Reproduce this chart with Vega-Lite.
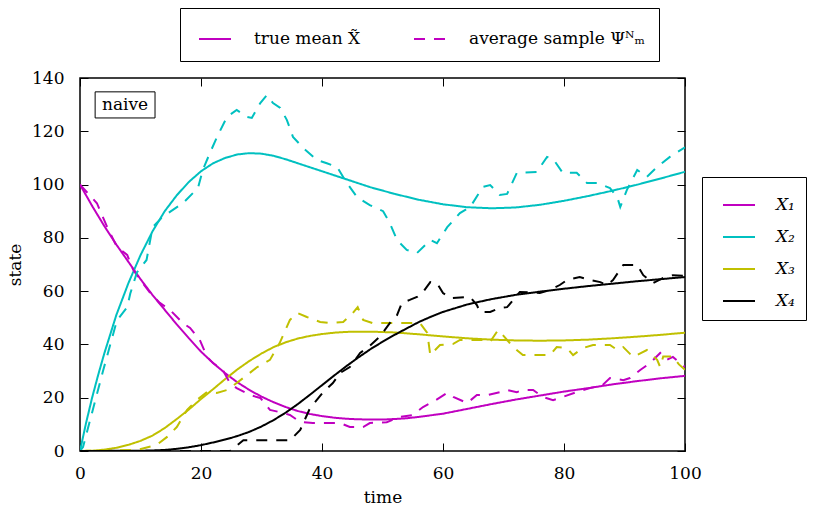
{
  "$schema": "https://vega.github.io/schema/vega-lite/v6.json",
  "width": 605,
  "height": 373,
  "autosize": {"type": "none"},
  "padding": {"left": 80, "top": 78, "right": 128, "bottom": 57},
  "config": {
    "font": "DejaVu Serif, serif",
    "view": {"stroke": "black", "strokeWidth": 1.5},
    "axis": {
      "grid": false,
      "domain": false,
      "tickSize": -8,
      "tickColor": "black",
      "tickWidth": 1,
      "labelFlush": false,
      "labelFont": "DejaVu Serif, serif",
      "titleFont": "DejaVu Serif, serif",
      "labelFontSize": 17,
      "titleFontSize": 17,
      "labelColor": "black",
      "titleColor": "black",
      "titleFontWeight": "normal"
    },
    "legend": {
      "labelFont": "DejaVu Serif, serif",
      "labelFontSize": 17,
      "labelColor": "black",
      "labelLimit": 400,
      "strokeColor": "black",
      "fillColor": "white",
      "symbolType": "stroke",
      "symbolSize": 1024,
      "symbolStrokeWidth": 2
    }
  },
  "datasets": {
    "curves": [
      {"t": 0, "v": 100, "series": "X₁", "kind": "true mean X̃"},
      {"t": 2, "v": 92, "series": "X₁", "kind": "true mean X̃"},
      {"t": 4, "v": 84.5, "series": "X₁", "kind": "true mean X̃"},
      {"t": 6, "v": 77.5, "series": "X₁", "kind": "true mean X̃"},
      {"t": 8, "v": 71, "series": "X₁", "kind": "true mean X̃"},
      {"t": 10, "v": 64.5, "series": "X₁", "kind": "true mean X̃"},
      {"t": 12, "v": 58.5, "series": "X₁", "kind": "true mean X̃"},
      {"t": 14, "v": 53, "series": "X₁", "kind": "true mean X̃"},
      {"t": 16, "v": 47.5, "series": "X₁", "kind": "true mean X̃"},
      {"t": 18, "v": 42.3, "series": "X₁", "kind": "true mean X̃"},
      {"t": 20, "v": 37.3, "series": "X₁", "kind": "true mean X̃"},
      {"t": 22, "v": 33, "series": "X₁", "kind": "true mean X̃"},
      {"t": 24, "v": 29.2, "series": "X₁", "kind": "true mean X̃"},
      {"t": 26, "v": 25.8, "series": "X₁", "kind": "true mean X̃"},
      {"t": 28, "v": 22.9, "series": "X₁", "kind": "true mean X̃"},
      {"t": 30, "v": 20.4, "series": "X₁", "kind": "true mean X̃"},
      {"t": 32, "v": 18.3, "series": "X₁", "kind": "true mean X̃"},
      {"t": 34, "v": 16.5, "series": "X₁", "kind": "true mean X̃"},
      {"t": 36, "v": 15, "series": "X₁", "kind": "true mean X̃"},
      {"t": 38, "v": 13.9, "series": "X₁", "kind": "true mean X̃"},
      {"t": 40, "v": 13.1, "series": "X₁", "kind": "true mean X̃"},
      {"t": 42, "v": 12.5, "series": "X₁", "kind": "true mean X̃"},
      {"t": 44, "v": 12.1, "series": "X₁", "kind": "true mean X̃"},
      {"t": 46, "v": 11.9, "series": "X₁", "kind": "true mean X̃"},
      {"t": 48, "v": 11.8, "series": "X₁", "kind": "true mean X̃"},
      {"t": 50, "v": 11.8, "series": "X₁", "kind": "true mean X̃"},
      {"t": 52, "v": 12, "series": "X₁", "kind": "true mean X̃"},
      {"t": 54, "v": 12.3, "series": "X₁", "kind": "true mean X̃"},
      {"t": 56, "v": 12.8, "series": "X₁", "kind": "true mean X̃"},
      {"t": 58, "v": 13.4, "series": "X₁", "kind": "true mean X̃"},
      {"t": 60, "v": 14, "series": "X₁", "kind": "true mean X̃"},
      {"t": 64, "v": 15.8, "series": "X₁", "kind": "true mean X̃"},
      {"t": 68, "v": 17.6, "series": "X₁", "kind": "true mean X̃"},
      {"t": 72, "v": 19.3, "series": "X₁", "kind": "true mean X̃"},
      {"t": 76, "v": 20.8, "series": "X₁", "kind": "true mean X̃"},
      {"t": 80, "v": 22.3, "series": "X₁", "kind": "true mean X̃"},
      {"t": 84, "v": 23.6, "series": "X₁", "kind": "true mean X̃"},
      {"t": 88, "v": 25, "series": "X₁", "kind": "true mean X̃"},
      {"t": 92, "v": 26.2, "series": "X₁", "kind": "true mean X̃"},
      {"t": 96, "v": 27.3, "series": "X₁", "kind": "true mean X̃"},
      {"t": 100, "v": 28.2, "series": "X₁", "kind": "true mean X̃"},

      {"t": 0, "v": 0, "series": "X₂", "kind": "true mean X̃"},
      {"t": 1, "v": 10.5, "series": "X₂", "kind": "true mean X̃"},
      {"t": 2, "v": 20, "series": "X₂", "kind": "true mean X̃"},
      {"t": 3, "v": 28.5, "series": "X₂", "kind": "true mean X̃"},
      {"t": 4, "v": 36.5, "series": "X₂", "kind": "true mean X̃"},
      {"t": 6, "v": 51, "series": "X₂", "kind": "true mean X̃"},
      {"t": 8, "v": 63, "series": "X₂", "kind": "true mean X̃"},
      {"t": 10, "v": 73.5, "series": "X₂", "kind": "true mean X̃"},
      {"t": 12, "v": 82.5, "series": "X₂", "kind": "true mean X̃"},
      {"t": 14, "v": 90, "series": "X₂", "kind": "true mean X̃"},
      {"t": 16, "v": 96, "series": "X₂", "kind": "true mean X̃"},
      {"t": 18, "v": 101, "series": "X₂", "kind": "true mean X̃"},
      {"t": 20, "v": 105, "series": "X₂", "kind": "true mean X̃"},
      {"t": 22, "v": 108, "series": "X₂", "kind": "true mean X̃"},
      {"t": 24, "v": 110, "series": "X₂", "kind": "true mean X̃"},
      {"t": 26, "v": 111.3, "series": "X₂", "kind": "true mean X̃"},
      {"t": 28, "v": 111.8, "series": "X₂", "kind": "true mean X̃"},
      {"t": 30, "v": 111.6, "series": "X₂", "kind": "true mean X̃"},
      {"t": 32, "v": 110.8, "series": "X₂", "kind": "true mean X̃"},
      {"t": 34, "v": 109.5, "series": "X₂", "kind": "true mean X̃"},
      {"t": 36, "v": 108, "series": "X₂", "kind": "true mean X̃"},
      {"t": 38, "v": 106.5, "series": "X₂", "kind": "true mean X̃"},
      {"t": 40, "v": 105, "series": "X₂", "kind": "true mean X̃"},
      {"t": 44, "v": 102, "series": "X₂", "kind": "true mean X̃"},
      {"t": 48, "v": 99, "series": "X₂", "kind": "true mean X̃"},
      {"t": 52, "v": 96.5, "series": "X₂", "kind": "true mean X̃"},
      {"t": 56, "v": 94.3, "series": "X₂", "kind": "true mean X̃"},
      {"t": 60, "v": 92.6, "series": "X₂", "kind": "true mean X̃"},
      {"t": 64, "v": 91.5, "series": "X₂", "kind": "true mean X̃"},
      {"t": 68, "v": 91.1, "series": "X₂", "kind": "true mean X̃"},
      {"t": 72, "v": 91.4, "series": "X₂", "kind": "true mean X̃"},
      {"t": 76, "v": 92.4, "series": "X₂", "kind": "true mean X̃"},
      {"t": 80, "v": 93.9, "series": "X₂", "kind": "true mean X̃"},
      {"t": 84, "v": 95.7, "series": "X₂", "kind": "true mean X̃"},
      {"t": 88, "v": 97.7, "series": "X₂", "kind": "true mean X̃"},
      {"t": 92, "v": 99.9, "series": "X₂", "kind": "true mean X̃"},
      {"t": 96, "v": 102.3, "series": "X₂", "kind": "true mean X̃"},
      {"t": 100, "v": 104.8, "series": "X₂", "kind": "true mean X̃"},

      {"t": 0, "v": 0, "series": "X₃", "kind": "true mean X̃"},
      {"t": 2, "v": 0.1, "series": "X₃", "kind": "true mean X̃"},
      {"t": 4, "v": 0.5, "series": "X₃", "kind": "true mean X̃"},
      {"t": 6, "v": 1.2, "series": "X₃", "kind": "true mean X̃"},
      {"t": 8, "v": 2.3, "series": "X₃", "kind": "true mean X̃"},
      {"t": 10, "v": 3.8, "series": "X₃", "kind": "true mean X̃"},
      {"t": 12, "v": 5.8, "series": "X₃", "kind": "true mean X̃"},
      {"t": 14, "v": 8.6, "series": "X₃", "kind": "true mean X̃"},
      {"t": 16, "v": 12, "series": "X₃", "kind": "true mean X̃"},
      {"t": 18, "v": 15.6, "series": "X₃", "kind": "true mean X̃"},
      {"t": 20, "v": 19.5, "series": "X₃", "kind": "true mean X̃"},
      {"t": 22, "v": 23.2, "series": "X₃", "kind": "true mean X̃"},
      {"t": 24, "v": 27, "series": "X₃", "kind": "true mean X̃"},
      {"t": 26, "v": 30.6, "series": "X₃", "kind": "true mean X̃"},
      {"t": 28, "v": 33.8, "series": "X₃", "kind": "true mean X̃"},
      {"t": 30, "v": 36.6, "series": "X₃", "kind": "true mean X̃"},
      {"t": 32, "v": 39, "series": "X₃", "kind": "true mean X̃"},
      {"t": 34, "v": 40.8, "series": "X₃", "kind": "true mean X̃"},
      {"t": 36, "v": 42.2, "series": "X₃", "kind": "true mean X̃"},
      {"t": 38, "v": 43.2, "series": "X₃", "kind": "true mean X̃"},
      {"t": 40, "v": 43.9, "series": "X₃", "kind": "true mean X̃"},
      {"t": 42, "v": 44.4, "series": "X₃", "kind": "true mean X̃"},
      {"t": 44, "v": 44.7, "series": "X₃", "kind": "true mean X̃"},
      {"t": 46, "v": 44.8, "series": "X₃", "kind": "true mean X̃"},
      {"t": 48, "v": 44.8, "series": "X₃", "kind": "true mean X̃"},
      {"t": 52, "v": 44.5, "series": "X₃", "kind": "true mean X̃"},
      {"t": 56, "v": 43.8, "series": "X₃", "kind": "true mean X̃"},
      {"t": 60, "v": 43, "series": "X₃", "kind": "true mean X̃"},
      {"t": 64, "v": 42.3, "series": "X₃", "kind": "true mean X̃"},
      {"t": 68, "v": 41.8, "series": "X₃", "kind": "true mean X̃"},
      {"t": 72, "v": 41.5, "series": "X₃", "kind": "true mean X̃"},
      {"t": 76, "v": 41.4, "series": "X₃", "kind": "true mean X̃"},
      {"t": 80, "v": 41.5, "series": "X₃", "kind": "true mean X̃"},
      {"t": 84, "v": 41.8, "series": "X₃", "kind": "true mean X̃"},
      {"t": 88, "v": 42.3, "series": "X₃", "kind": "true mean X̃"},
      {"t": 92, "v": 42.9, "series": "X₃", "kind": "true mean X̃"},
      {"t": 96, "v": 43.6, "series": "X₃", "kind": "true mean X̃"},
      {"t": 100, "v": 44.4, "series": "X₃", "kind": "true mean X̃"},

      {"t": 0, "v": 0, "series": "X₄", "kind": "true mean X̃"},
      {"t": 10, "v": 0.1, "series": "X₄", "kind": "true mean X̃"},
      {"t": 12, "v": 0.2, "series": "X₄", "kind": "true mean X̃"},
      {"t": 14, "v": 0.4, "series": "X₄", "kind": "true mean X̃"},
      {"t": 16, "v": 0.8, "series": "X₄", "kind": "true mean X̃"},
      {"t": 18, "v": 1.4, "series": "X₄", "kind": "true mean X̃"},
      {"t": 20, "v": 2.2, "series": "X₄", "kind": "true mean X̃"},
      {"t": 22, "v": 3.2, "series": "X₄", "kind": "true mean X̃"},
      {"t": 24, "v": 4.3, "series": "X₄", "kind": "true mean X̃"},
      {"t": 26, "v": 5.6, "series": "X₄", "kind": "true mean X̃"},
      {"t": 28, "v": 7.2, "series": "X₄", "kind": "true mean X̃"},
      {"t": 30, "v": 9.2, "series": "X₄", "kind": "true mean X̃"},
      {"t": 32, "v": 11.6, "series": "X₄", "kind": "true mean X̃"},
      {"t": 34, "v": 14.4, "series": "X₄", "kind": "true mean X̃"},
      {"t": 36, "v": 17.6, "series": "X₄", "kind": "true mean X̃"},
      {"t": 38, "v": 21.1, "series": "X₄", "kind": "true mean X̃"},
      {"t": 40, "v": 24.7, "series": "X₄", "kind": "true mean X̃"},
      {"t": 42, "v": 28.3, "series": "X₄", "kind": "true mean X̃"},
      {"t": 44, "v": 31.8, "series": "X₄", "kind": "true mean X̃"},
      {"t": 46, "v": 35.1, "series": "X₄", "kind": "true mean X̃"},
      {"t": 48, "v": 38.2, "series": "X₄", "kind": "true mean X̃"},
      {"t": 50, "v": 41, "series": "X₄", "kind": "true mean X̃"},
      {"t": 52, "v": 43.6, "series": "X₄", "kind": "true mean X̃"},
      {"t": 54, "v": 46, "series": "X₄", "kind": "true mean X̃"},
      {"t": 56, "v": 48.4, "series": "X₄", "kind": "true mean X̃"},
      {"t": 58, "v": 50.4, "series": "X₄", "kind": "true mean X̃"},
      {"t": 60, "v": 52.2, "series": "X₄", "kind": "true mean X̃"},
      {"t": 62, "v": 53.6, "series": "X₄", "kind": "true mean X̃"},
      {"t": 64, "v": 55, "series": "X₄", "kind": "true mean X̃"},
      {"t": 66, "v": 56, "series": "X₄", "kind": "true mean X̃"},
      {"t": 68, "v": 57, "series": "X₄", "kind": "true mean X̃"},
      {"t": 72, "v": 58.6, "series": "X₄", "kind": "true mean X̃"},
      {"t": 76, "v": 59.8, "series": "X₄", "kind": "true mean X̃"},
      {"t": 80, "v": 60.9, "series": "X₄", "kind": "true mean X̃"},
      {"t": 84, "v": 61.9, "series": "X₄", "kind": "true mean X̃"},
      {"t": 88, "v": 62.8, "series": "X₄", "kind": "true mean X̃"},
      {"t": 92, "v": 63.7, "series": "X₄", "kind": "true mean X̃"},
      {"t": 96, "v": 64.5, "series": "X₄", "kind": "true mean X̃"},
      {"t": 100, "v": 65.3, "series": "X₄", "kind": "true mean X̃"},

      {"t": 0, "v": 100, "series": "X₁", "kind": "average sample Ψᴺₘ"},
      {"t": 2.8, "v": 93, "series": "X₁", "kind": "average sample Ψᴺₘ"},
      {"t": 4.5, "v": 84, "series": "X₁", "kind": "average sample Ψᴺₘ"},
      {"t": 6.1, "v": 76.6, "series": "X₁", "kind": "average sample Ψᴺₘ"},
      {"t": 7.8, "v": 73.6, "series": "X₁", "kind": "average sample Ψᴺₘ"},
      {"t": 8.8, "v": 68, "series": "X₁", "kind": "average sample Ψᴺₘ"},
      {"t": 9.4, "v": 66, "series": "X₁", "kind": "average sample Ψᴺₘ"},
      {"t": 11.6, "v": 59.3, "series": "X₁", "kind": "average sample Ψᴺₘ"},
      {"t": 13.2, "v": 55.6, "series": "X₁", "kind": "average sample Ψᴺₘ"},
      {"t": 14.9, "v": 52.9, "series": "X₁", "kind": "average sample Ψᴺₘ"},
      {"t": 17, "v": 48, "series": "X₁", "kind": "average sample Ψᴺₘ"},
      {"t": 18.2, "v": 46.2, "series": "X₁", "kind": "average sample Ψᴺₘ"},
      {"t": 19.8, "v": 41.7, "series": "X₁", "kind": "average sample Ψᴺₘ"},
      {"t": 21, "v": 35.3, "series": "X₁", "kind": "average sample Ψᴺₘ"},
      {"t": 22, "v": 33, "series": "X₁", "kind": "average sample Ψᴺₘ"},
      {"t": 23.6, "v": 30.4, "series": "X₁", "kind": "average sample Ψᴺₘ"},
      {"t": 24.8, "v": 25.5, "series": "X₁", "kind": "average sample Ψᴺₘ"},
      {"t": 25.9, "v": 23.6, "series": "X₁", "kind": "average sample Ψᴺₘ"},
      {"t": 28.1, "v": 21, "series": "X₁", "kind": "average sample Ψᴺₘ"},
      {"t": 29.8, "v": 19.9, "series": "X₁", "kind": "average sample Ψᴺₘ"},
      {"t": 31.4, "v": 15.4, "series": "X₁", "kind": "average sample Ψᴺₘ"},
      {"t": 33.6, "v": 14.3, "series": "X₁", "kind": "average sample Ψᴺₘ"},
      {"t": 34.7, "v": 13.5, "series": "X₁", "kind": "average sample Ψᴺₘ"},
      {"t": 36.4, "v": 10.9, "series": "X₁", "kind": "average sample Ψᴺₘ"},
      {"t": 38.5, "v": 10.5, "series": "X₁", "kind": "average sample Ψᴺₘ"},
      {"t": 43, "v": 10.5, "series": "X₁", "kind": "average sample Ψᴺₘ"},
      {"t": 44.6, "v": 9, "series": "X₁", "kind": "average sample Ψᴺₘ"},
      {"t": 46.8, "v": 9, "series": "X₁", "kind": "average sample Ψᴺₘ"},
      {"t": 47.9, "v": 10.5, "series": "X₁", "kind": "average sample Ψᴺₘ"},
      {"t": 50.7, "v": 10.8, "series": "X₁", "kind": "average sample Ψᴺₘ"},
      {"t": 52.9, "v": 12.8, "series": "X₁", "kind": "average sample Ψᴺₘ"},
      {"t": 55, "v": 13.5, "series": "X₁", "kind": "average sample Ψᴺₘ"},
      {"t": 56.7, "v": 16.5, "series": "X₁", "kind": "average sample Ψᴺₘ"},
      {"t": 58.3, "v": 18.4, "series": "X₁", "kind": "average sample Ψᴺₘ"},
      {"t": 60.7, "v": 21.8, "series": "X₁", "kind": "average sample Ψᴺₘ"},
      {"t": 61.7, "v": 20.3, "series": "X₁", "kind": "average sample Ψᴺₘ"},
      {"t": 64, "v": 18, "series": "X₁", "kind": "average sample Ψᴺₘ"},
      {"t": 65.6, "v": 21, "series": "X₁", "kind": "average sample Ψᴺₘ"},
      {"t": 67.3, "v": 21, "series": "X₁", "kind": "average sample Ψᴺₘ"},
      {"t": 69.4, "v": 22.1, "series": "X₁", "kind": "average sample Ψᴺₘ"},
      {"t": 70.6, "v": 22.9, "series": "X₁", "kind": "average sample Ψᴺₘ"},
      {"t": 72.2, "v": 22.1, "series": "X₁", "kind": "average sample Ψᴺₘ"},
      {"t": 73.2, "v": 22.9, "series": "X₁", "kind": "average sample Ψᴺₘ"},
      {"t": 74.9, "v": 22.9, "series": "X₁", "kind": "average sample Ψᴺₘ"},
      {"t": 76.5, "v": 20.3, "series": "X₁", "kind": "average sample Ψᴺₘ"},
      {"t": 78.2, "v": 19.1, "series": "X₁", "kind": "average sample Ψᴺₘ"},
      {"t": 79.8, "v": 20.3, "series": "X₁", "kind": "average sample Ψᴺₘ"},
      {"t": 82.1, "v": 22.1, "series": "X₁", "kind": "average sample Ψᴺₘ"},
      {"t": 84.3, "v": 23.6, "series": "X₁", "kind": "average sample Ψᴺₘ"},
      {"t": 86.4, "v": 24.8, "series": "X₁", "kind": "average sample Ψᴺₘ"},
      {"t": 87.6, "v": 27.4, "series": "X₁", "kind": "average sample Ψᴺₘ"},
      {"t": 89.8, "v": 26.6, "series": "X₁", "kind": "average sample Ψᴺₘ"},
      {"t": 90.9, "v": 27.4, "series": "X₁", "kind": "average sample Ψᴺₘ"},
      {"t": 92.6, "v": 30.4, "series": "X₁", "kind": "average sample Ψᴺₘ"},
      {"t": 94.2, "v": 33, "series": "X₁", "kind": "average sample Ψᴺₘ"},
      {"t": 95.9, "v": 36.8, "series": "X₁", "kind": "average sample Ψᴺₘ"},
      {"t": 97, "v": 34.2, "series": "X₁", "kind": "average sample Ψᴺₘ"},
      {"t": 98, "v": 35.3, "series": "X₁", "kind": "average sample Ψᴺₘ"},
      {"t": 99.2, "v": 33, "series": "X₁", "kind": "average sample Ψᴺₘ"},
      {"t": 100, "v": 31.5, "series": "X₁", "kind": "average sample Ψᴺₘ"},

      {"t": 0, "v": 0, "series": "X₂", "kind": "average sample Ψᴺₘ"},
      {"t": 0.5, "v": 1.5, "series": "X₂", "kind": "average sample Ψᴺₘ"},
      {"t": 3.8, "v": 30, "series": "X₂", "kind": "average sample Ψᴺₘ"},
      {"t": 6.1, "v": 49, "series": "X₂", "kind": "average sample Ψᴺₘ"},
      {"t": 7.8, "v": 54, "series": "X₂", "kind": "average sample Ψᴺₘ"},
      {"t": 8.3, "v": 59, "series": "X₂", "kind": "average sample Ψᴺₘ"},
      {"t": 9.4, "v": 67, "series": "X₂", "kind": "average sample Ψᴺₘ"},
      {"t": 11, "v": 71.7, "series": "X₂", "kind": "average sample Ψᴺₘ"},
      {"t": 12, "v": 84, "series": "X₂", "kind": "average sample Ψᴺₘ"},
      {"t": 13.7, "v": 88, "series": "X₂", "kind": "average sample Ψᴺₘ"},
      {"t": 17, "v": 93, "series": "X₂", "kind": "average sample Ψᴺₘ"},
      {"t": 19.5, "v": 98.7, "series": "X₂", "kind": "average sample Ψᴺₘ"},
      {"t": 20.3, "v": 105.5, "series": "X₂", "kind": "average sample Ψᴺₘ"},
      {"t": 21.5, "v": 112, "series": "X₂", "kind": "average sample Ψᴺₘ"},
      {"t": 22.8, "v": 118.6, "series": "X₂", "kind": "average sample Ψᴺₘ"},
      {"t": 24.3, "v": 125.4, "series": "X₂", "kind": "average sample Ψᴺₘ"},
      {"t": 25.9, "v": 128, "series": "X₂", "kind": "average sample Ψᴺₘ"},
      {"t": 27.6, "v": 125.4, "series": "X₂", "kind": "average sample Ψᴺₘ"},
      {"t": 28.4, "v": 125, "series": "X₂", "kind": "average sample Ψᴺₘ"},
      {"t": 29.8, "v": 130.6, "series": "X₂", "kind": "average sample Ψᴺₘ"},
      {"t": 30.9, "v": 133.6, "series": "X₂", "kind": "average sample Ψᴺₘ"},
      {"t": 31.9, "v": 130.6, "series": "X₂", "kind": "average sample Ψᴺₘ"},
      {"t": 33.1, "v": 128.8, "series": "X₂", "kind": "average sample Ψᴺₘ"},
      {"t": 34.2, "v": 124.2, "series": "X₂", "kind": "average sample Ψᴺₘ"},
      {"t": 35.2, "v": 117.9, "series": "X₂", "kind": "average sample Ψᴺₘ"},
      {"t": 36.9, "v": 113.7, "series": "X₂", "kind": "average sample Ψᴺₘ"},
      {"t": 39.2, "v": 109.2, "series": "X₂", "kind": "average sample Ψᴺₘ"},
      {"t": 40.8, "v": 108, "series": "X₂", "kind": "average sample Ψᴺₘ"},
      {"t": 42.5, "v": 106.6, "series": "X₂", "kind": "average sample Ψᴺₘ"},
      {"t": 44.1, "v": 100.6, "series": "X₂", "kind": "average sample Ψᴺₘ"},
      {"t": 45.8, "v": 95.3, "series": "X₂", "kind": "average sample Ψᴺₘ"},
      {"t": 47.9, "v": 92.3, "series": "X₂", "kind": "average sample Ψᴺₘ"},
      {"t": 50.1, "v": 90, "series": "X₂", "kind": "average sample Ψᴺₘ"},
      {"t": 51.2, "v": 85.6, "series": "X₂", "kind": "average sample Ψᴺₘ"},
      {"t": 52.4, "v": 79.2, "series": "X₂", "kind": "average sample Ψᴺₘ"},
      {"t": 54, "v": 75.5, "series": "X₂", "kind": "average sample Ψᴺₘ"},
      {"t": 55.7, "v": 74.3, "series": "X₂", "kind": "average sample Ψᴺₘ"},
      {"t": 57.9, "v": 79.2, "series": "X₂", "kind": "average sample Ψᴺₘ"},
      {"t": 59, "v": 78, "series": "X₂", "kind": "average sample Ψᴺₘ"},
      {"t": 60.7, "v": 84, "series": "X₂", "kind": "average sample Ψᴺₘ"},
      {"t": 62.8, "v": 89.3, "series": "X₂", "kind": "average sample Ψᴺₘ"},
      {"t": 64.5, "v": 91.6, "series": "X₂", "kind": "average sample Ψᴺₘ"},
      {"t": 66.6, "v": 99.1, "series": "X₂", "kind": "average sample Ψᴺₘ"},
      {"t": 67.8, "v": 99.8, "series": "X₂", "kind": "average sample Ψᴺₘ"},
      {"t": 69.4, "v": 96.1, "series": "X₂", "kind": "average sample Ψᴺₘ"},
      {"t": 70.6, "v": 96.5, "series": "X₂", "kind": "average sample Ψᴺₘ"},
      {"t": 72.2, "v": 104.4, "series": "X₂", "kind": "average sample Ψᴺₘ"},
      {"t": 75.5, "v": 104.7, "series": "X₂", "kind": "average sample Ψᴺₘ"},
      {"t": 77.2, "v": 110.4, "series": "X₂", "kind": "average sample Ψᴺₘ"},
      {"t": 78.2, "v": 109.6, "series": "X₂", "kind": "average sample Ψᴺₘ"},
      {"t": 79.8, "v": 104.4, "series": "X₂", "kind": "average sample Ψᴺₘ"},
      {"t": 82.1, "v": 104.4, "series": "X₂", "kind": "average sample Ψᴺₘ"},
      {"t": 83.8, "v": 100.6, "series": "X₂", "kind": "average sample Ψᴺₘ"},
      {"t": 85.5, "v": 100.6, "series": "X₂", "kind": "average sample Ψᴺₘ"},
      {"t": 87.6, "v": 98.7, "series": "X₂", "kind": "average sample Ψᴺₘ"},
      {"t": 88.8, "v": 95.3, "series": "X₂", "kind": "average sample Ψᴺₘ"},
      {"t": 89.3, "v": 91.6, "series": "X₂", "kind": "average sample Ψᴺₘ"},
      {"t": 90.4, "v": 98, "series": "X₂", "kind": "average sample Ψᴺₘ"},
      {"t": 92.1, "v": 105.5, "series": "X₂", "kind": "average sample Ψᴺₘ"},
      {"t": 93.7, "v": 102.9, "series": "X₂", "kind": "average sample Ψᴺₘ"},
      {"t": 95.4, "v": 106.6, "series": "X₂", "kind": "average sample Ψᴺₘ"},
      {"t": 97.5, "v": 110.4, "series": "X₂", "kind": "average sample Ψᴺₘ"},
      {"t": 100, "v": 114, "series": "X₂", "kind": "average sample Ψᴺₘ"},

      {"t": 0, "v": 0, "series": "X₃", "kind": "average sample Ψᴺₘ"},
      {"t": 9.4, "v": 0.4, "series": "X₃", "kind": "average sample Ψᴺₘ"},
      {"t": 12.7, "v": 2.3, "series": "X₃", "kind": "average sample Ψᴺₘ"},
      {"t": 14.4, "v": 5.3, "series": "X₃", "kind": "average sample Ψᴺₘ"},
      {"t": 16, "v": 9, "series": "X₃", "kind": "average sample Ψᴺₘ"},
      {"t": 17.7, "v": 15.4, "series": "X₃", "kind": "average sample Ψᴺₘ"},
      {"t": 19.3, "v": 19.1, "series": "X₃", "kind": "average sample Ψᴺₘ"},
      {"t": 21, "v": 22.1, "series": "X₃", "kind": "average sample Ψᴺₘ"},
      {"t": 22.6, "v": 21.8, "series": "X₃", "kind": "average sample Ψᴺₘ"},
      {"t": 24.3, "v": 22.9, "series": "X₃", "kind": "average sample Ψᴺₘ"},
      {"t": 25.9, "v": 25.5, "series": "X₃", "kind": "average sample Ψᴺₘ"},
      {"t": 27.6, "v": 28.5, "series": "X₃", "kind": "average sample Ψᴺₘ"},
      {"t": 29.3, "v": 31.5, "series": "X₃", "kind": "average sample Ψᴺₘ"},
      {"t": 31.4, "v": 34.2, "series": "X₃", "kind": "average sample Ψᴺₘ"},
      {"t": 33, "v": 40.5, "series": "X₃", "kind": "average sample Ψᴺₘ"},
      {"t": 34.7, "v": 49.2, "series": "X₃", "kind": "average sample Ψᴺₘ"},
      {"t": 35.9, "v": 51.8, "series": "X₃", "kind": "average sample Ψᴺₘ"},
      {"t": 37.5, "v": 50.3, "series": "X₃", "kind": "average sample Ψᴺₘ"},
      {"t": 39.7, "v": 48.4, "series": "X₃", "kind": "average sample Ψᴺₘ"},
      {"t": 41.3, "v": 48, "series": "X₃", "kind": "average sample Ψᴺₘ"},
      {"t": 43.5, "v": 48.4, "series": "X₃", "kind": "average sample Ψᴺₘ"},
      {"t": 45.1, "v": 51.8, "series": "X₃", "kind": "average sample Ψᴺₘ"},
      {"t": 45.9, "v": 54, "series": "X₃", "kind": "average sample Ψᴺₘ"},
      {"t": 46.8, "v": 49.2, "series": "X₃", "kind": "average sample Ψᴺₘ"},
      {"t": 48.4, "v": 48, "series": "X₃", "kind": "average sample Ψᴺₘ"},
      {"t": 56.2, "v": 48, "series": "X₃", "kind": "average sample Ψᴺₘ"},
      {"t": 57.4, "v": 44.3, "series": "X₃", "kind": "average sample Ψᴺₘ"},
      {"t": 57.9, "v": 36, "series": "X₃", "kind": "average sample Ψᴺₘ"},
      {"t": 59.5, "v": 39.8, "series": "X₃", "kind": "average sample Ψᴺₘ"},
      {"t": 61.7, "v": 40.2, "series": "X₃", "kind": "average sample Ψᴺₘ"},
      {"t": 62.8, "v": 41.7, "series": "X₃", "kind": "average sample Ψᴺₘ"},
      {"t": 66.6, "v": 41.7, "series": "X₃", "kind": "average sample Ψᴺₘ"},
      {"t": 67.8, "v": 41, "series": "X₃", "kind": "average sample Ψᴺₘ"},
      {"t": 69.1, "v": 45.4, "series": "X₃", "kind": "average sample Ψᴺₘ"},
      {"t": 69.9, "v": 43.5, "series": "X₃", "kind": "average sample Ψᴺₘ"},
      {"t": 71.6, "v": 39, "series": "X₃", "kind": "average sample Ψᴺₘ"},
      {"t": 73.2, "v": 36, "series": "X₃", "kind": "average sample Ψᴺₘ"},
      {"t": 77.7, "v": 36, "series": "X₃", "kind": "average sample Ψᴺₘ"},
      {"t": 78.8, "v": 39, "series": "X₃", "kind": "average sample Ψᴺₘ"},
      {"t": 80.5, "v": 38.6, "series": "X₃", "kind": "average sample Ψᴺₘ"},
      {"t": 81.5, "v": 36, "series": "X₃", "kind": "average sample Ψᴺₘ"},
      {"t": 83.1, "v": 38.6, "series": "X₃", "kind": "average sample Ψᴺₘ"},
      {"t": 84.8, "v": 39.8, "series": "X₃", "kind": "average sample Ψᴺₘ"},
      {"t": 87.6, "v": 39.8, "series": "X₃", "kind": "average sample Ψᴺₘ"},
      {"t": 88.8, "v": 37.9, "series": "X₃", "kind": "average sample Ψᴺₘ"},
      {"t": 89.8, "v": 39, "series": "X₃", "kind": "average sample Ψᴺₘ"},
      {"t": 91.4, "v": 35.3, "series": "X₃", "kind": "average sample Ψᴺₘ"},
      {"t": 93.7, "v": 37.9, "series": "X₃", "kind": "average sample Ψᴺₘ"},
      {"t": 95.4, "v": 34.2, "series": "X₃", "kind": "average sample Ψᴺₘ"},
      {"t": 95.9, "v": 31.5, "series": "X₃", "kind": "average sample Ψᴺₘ"},
      {"t": 96.4, "v": 35.5, "series": "X₃", "kind": "average sample Ψᴺₘ"},
      {"t": 98, "v": 35.5, "series": "X₃", "kind": "average sample Ψᴺₘ"},
      {"t": 99, "v": 32.5, "series": "X₃", "kind": "average sample Ψᴺₘ"},
      {"t": 100, "v": 30.5, "series": "X₃", "kind": "average sample Ψᴺₘ"},

      {"t": 0, "v": 0, "series": "X₄", "kind": "average sample Ψᴺₘ"},
      {"t": 24.8, "v": 0, "series": "X₄", "kind": "average sample Ψᴺₘ"},
      {"t": 27, "v": 4, "series": "X₄", "kind": "average sample Ψᴺₘ"},
      {"t": 34.7, "v": 4, "series": "X₄", "kind": "average sample Ψᴺₘ"},
      {"t": 36.4, "v": 7.9, "series": "X₄", "kind": "average sample Ψᴺₘ"},
      {"t": 38, "v": 16, "series": "X₄", "kind": "average sample Ψᴺₘ"},
      {"t": 40.2, "v": 22.1, "series": "X₄", "kind": "average sample Ψᴺₘ"},
      {"t": 41.8, "v": 25.5, "series": "X₄", "kind": "average sample Ψᴺₘ"},
      {"t": 43, "v": 29.3, "series": "X₄", "kind": "average sample Ψᴺₘ"},
      {"t": 44.6, "v": 31.5, "series": "X₄", "kind": "average sample Ψᴺₘ"},
      {"t": 46.3, "v": 36.8, "series": "X₄", "kind": "average sample Ψᴺₘ"},
      {"t": 47.9, "v": 39.5, "series": "X₄", "kind": "average sample Ψᴺₘ"},
      {"t": 49.6, "v": 43, "series": "X₄", "kind": "average sample Ψᴺₘ"},
      {"t": 51.2, "v": 48, "series": "X₄", "kind": "average sample Ψᴺₘ"},
      {"t": 52.4, "v": 51, "series": "X₄", "kind": "average sample Ψᴺₘ"},
      {"t": 53.2, "v": 55.6, "series": "X₄", "kind": "average sample Ψᴺₘ"},
      {"t": 54.5, "v": 56.7, "series": "X₄", "kind": "average sample Ψᴺₘ"},
      {"t": 55.7, "v": 57.8, "series": "X₄", "kind": "average sample Ψᴺₘ"},
      {"t": 56.7, "v": 59.7, "series": "X₄", "kind": "average sample Ψᴺₘ"},
      {"t": 57.9, "v": 63.4, "series": "X₄", "kind": "average sample Ψᴺₘ"},
      {"t": 59, "v": 63, "series": "X₄", "kind": "average sample Ψᴺₘ"},
      {"t": 60, "v": 59.3, "series": "X₄", "kind": "average sample Ψᴺₘ"},
      {"t": 61.2, "v": 57.4, "series": "X₄", "kind": "average sample Ψᴺₘ"},
      {"t": 64.5, "v": 57.8, "series": "X₄", "kind": "average sample Ψᴺₘ"},
      {"t": 65.6, "v": 54.8, "series": "X₄", "kind": "average sample Ψᴺₘ"},
      {"t": 66.1, "v": 52.2, "series": "X₄", "kind": "average sample Ψᴺₘ"},
      {"t": 67.8, "v": 52.2, "series": "X₄", "kind": "average sample Ψᴺₘ"},
      {"t": 69.4, "v": 53.7, "series": "X₄", "kind": "average sample Ψᴺₘ"},
      {"t": 70.6, "v": 54, "series": "X₄", "kind": "average sample Ψᴺₘ"},
      {"t": 72.7, "v": 59.7, "series": "X₄", "kind": "average sample Ψᴺₘ"},
      {"t": 76, "v": 59.3, "series": "X₄", "kind": "average sample Ψᴺₘ"},
      {"t": 77.7, "v": 60.4, "series": "X₄", "kind": "average sample Ψᴺₘ"},
      {"t": 79.3, "v": 62.3, "series": "X₄", "kind": "average sample Ψᴺₘ"},
      {"t": 80.5, "v": 64.2, "series": "X₄", "kind": "average sample Ψᴺₘ"},
      {"t": 82.6, "v": 65.3, "series": "X₄", "kind": "average sample Ψᴺₘ"},
      {"t": 84.3, "v": 64.2, "series": "X₄", "kind": "average sample Ψᴺₘ"},
      {"t": 86, "v": 63.4, "series": "X₄", "kind": "average sample Ψᴺₘ"},
      {"t": 87.1, "v": 62.3, "series": "X₄", "kind": "average sample Ψᴺₘ"},
      {"t": 88.1, "v": 64.2, "series": "X₄", "kind": "average sample Ψᴺₘ"},
      {"t": 89.8, "v": 69.8, "series": "X₄", "kind": "average sample Ψᴺₘ"},
      {"t": 92.1, "v": 69.8, "series": "X₄", "kind": "average sample Ψᴺₘ"},
      {"t": 93.1, "v": 66, "series": "X₄", "kind": "average sample Ψᴺₘ"},
      {"t": 94.7, "v": 63, "series": "X₄", "kind": "average sample Ψᴺₘ"},
      {"t": 96.4, "v": 65, "series": "X₄", "kind": "average sample Ψᴺₘ"},
      {"t": 98, "v": 66, "series": "X₄", "kind": "average sample Ψᴺₘ"},
      {"t": 100, "v": 65.7, "series": "X₄", "kind": "average sample Ψᴺₘ"}
    ]
  },
  "resolve": {"axis": {"x": "independent", "y": "independent"}},
  "layer": [
    {
      "data": {"name": "curves"},
      "mark": {"type": "line", "strokeWidth": 2, "clip": true},
      "encoding": {
        "x": {
          "field": "t",
          "type": "quantitative",
          "scale": {"domain": [0, 100], "nice": false, "zero": false},
          "axis": {"values": [0, 20, 40, 60, 80, 100], "title": "time", "labelPadding": 22, "titlePadding": 8}
        },
        "y": {
          "field": "v",
          "type": "quantitative",
          "scale": {"domain": [0, 140], "nice": false},
          "axis": {"values": [0, 20, 40, 60, 80, 100, 120, 140], "title": "state", "labelPadding": 24, "titlePadding": 7}
        },
        "color": {
          "field": "series",
          "type": "nominal",
          "scale": {"domain": ["X₁", "X₂", "X₃", "X₄"], "range": ["#c000c0", "#00c0c0", "#c0c000", "#000000"]},
          "legend": {
            "title": null,
            "orient": "none",
            "legendX": 622,
            "legendY": 99,
            "padding": 11,
            "symbolOffset": 9,
            "rowPadding": 7,
            "labelOffset": 20,
            "labelFontStyle": "italic"
          }
        },
        "strokeDash": {
          "field": "kind",
          "type": "nominal",
          "scale": {"domain": ["true mean X̃", "average sample Ψᴺₘ"], "range": [[1, 0], [11, 9]]},
          "legend": {
            "title": null,
            "orient": "none",
            "direction": "horizontal",
            "legendX": 100,
            "legendY": -70,
            "padding": 14,
            "symbolOffset": 4,
            "columnPadding": 48,
            "labelOffset": 22,
            "symbolStrokeColor": "#c000c0"
          }
        }
      }
    },
    {
      "data": {"values": [{"t": 0, "v": 0}]},
      "mark": {"type": "point", "opacity": 0},
      "encoding": {
        "x": {
          "field": "t",
          "type": "quantitative",
          "axis": {"orient": "top", "values": [0, 20, 40, 60, 80, 100], "labels": false, "title": null}
        },
        "y": {
          "field": "v",
          "type": "quantitative",
          "axis": {"orient": "right", "values": [0, 20, 40, 60, 80, 100, 120, 140], "labels": false, "title": null}
        }
      }
    },
    {
      "data": {"values": [{"x1": 2.5, "x2": 12.4, "y1": 134.8, "y2": 125, "label": "naive", "tx": 7.45, "ty": 129.9}]},
      "layer": [
        {
          "mark": {"type": "rect", "fill": "white", "stroke": "black", "strokeWidth": 1},
          "encoding": {
            "x": {"field": "x1", "type": "quantitative", "axis": null},
            "x2": {"field": "x2"},
            "y": {"field": "y1", "type": "quantitative", "axis": null},
            "y2": {"field": "y2"}
          }
        },
        {
          "mark": {"type": "text", "fontSize": 17, "font": "DejaVu Serif, serif", "align": "center", "baseline": "middle", "color": "black"},
          "encoding": {
            "x": {"field": "tx", "type": "quantitative", "axis": null},
            "y": {"field": "ty", "type": "quantitative", "axis": null},
            "text": {"field": "label"}
          }
        }
      ]
    }
  ]
}
